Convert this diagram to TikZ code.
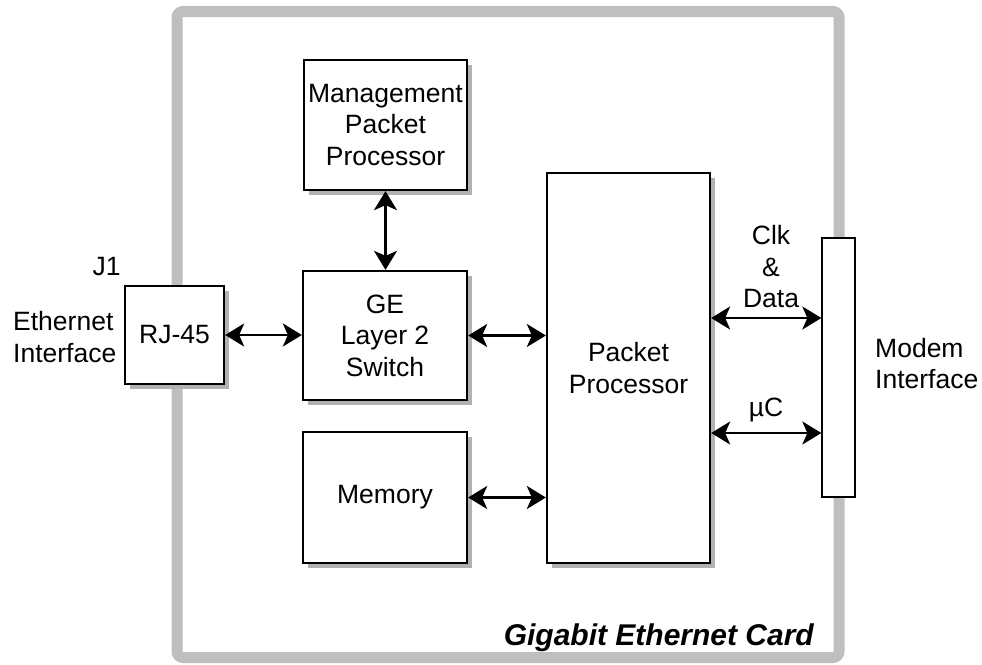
\documentclass[tikz,border=0pt]{standalone}
\usepackage{fontspec}
\setmainfont{Liberation Sans}
\usetikzlibrary{arrows.meta,shadows}
\begin{document}
\begin{tikzpicture}[x=1pt,y=-1pt,
  txt/.style={font=\fontsize{26.5}{31.5}\selectfont, inner sep=0pt},
  blk/.style={draw=black, line width=2.3pt, fill=white, align=center,
    font=\fontsize{26.5}{31.5}\selectfont, inner sep=0pt,
    drop shadow={shadow xshift=5pt, shadow yshift=-5pt, fill=black!30, opacity=1}},
  bar/.style={draw=black, line width=1.3pt, fill=white, inner sep=0pt},
  biarrow/.style={line width=2.5pt,
    {Stealth[length=19pt,width=23pt,inset=5pt]}-{Stealth[length=19pt,width=23pt,inset=5pt]}},
  frame/.style={draw=black!25, line width=11pt, rounded corners=6pt}
]
\useasboundingbox (0,0) rectangle (982,664);
\fill[white] (0,0) rectangle (982,664);
\draw[frame] (177,11.5) rectangle (839,657.5);

\node[blk, minimum width=163pt, minimum height=130pt] (mgmt) at (385.5,125) {Management\\Packet\\Processor};
\node[blk, minimum width=164pt, minimum height=129pt] (ge) at (385,335.5) {GE\\Layer 2\\Switch};
\node[blk, minimum width=164pt, minimum height=131pt] (mem) at (385,497.5) {Memory};
\node[blk, minimum width=163pt, minimum height=390pt] (pp) at (628.5,368) {Packet\\Processor};
\node[blk, minimum width=99pt, minimum height=98pt] (rj) at (174.5,335) {RJ-45};
\node[bar, minimum width=33pt, minimum height=259pt] (modem) at (838.5,367.5) {};

\node[txt] (j1) at (106.5,267) {J1};
\node[txt, anchor=west, align=left] (eth) at (13,337) {Ethernet\\Interface};
\node[txt, anchor=west, align=left] (mi) at (875,363.5) {Modem\\Interface};
\node[txt, align=center] (clk) at (771,267) {Clk\\\&\\Data};
\node[txt] (uc) at (766,410) {µC};
\node[font=\fontsize{30}{36}\selectfont\bfseries\itshape, inner sep=0pt, anchor=base east] (card) at (814,645) {Gigabit Ethernet Card};

\draw[biarrow] (rj.east) -- (rj.east -| ge.west);
\draw[biarrow] (mgmt.south) -- (mgmt.south |- ge.north);
\draw[biarrow] (ge.east) -- (ge.east -| pp.west);
\draw[biarrow] (mem.east) -- (mem.east -| pp.west);
\draw[biarrow] (pp.east |- 0,318) -- (modem.west |- 0,318);
\draw[biarrow] (pp.east |- 0,433) -- (modem.west |- 0,433);
\end{tikzpicture}
\end{document}
